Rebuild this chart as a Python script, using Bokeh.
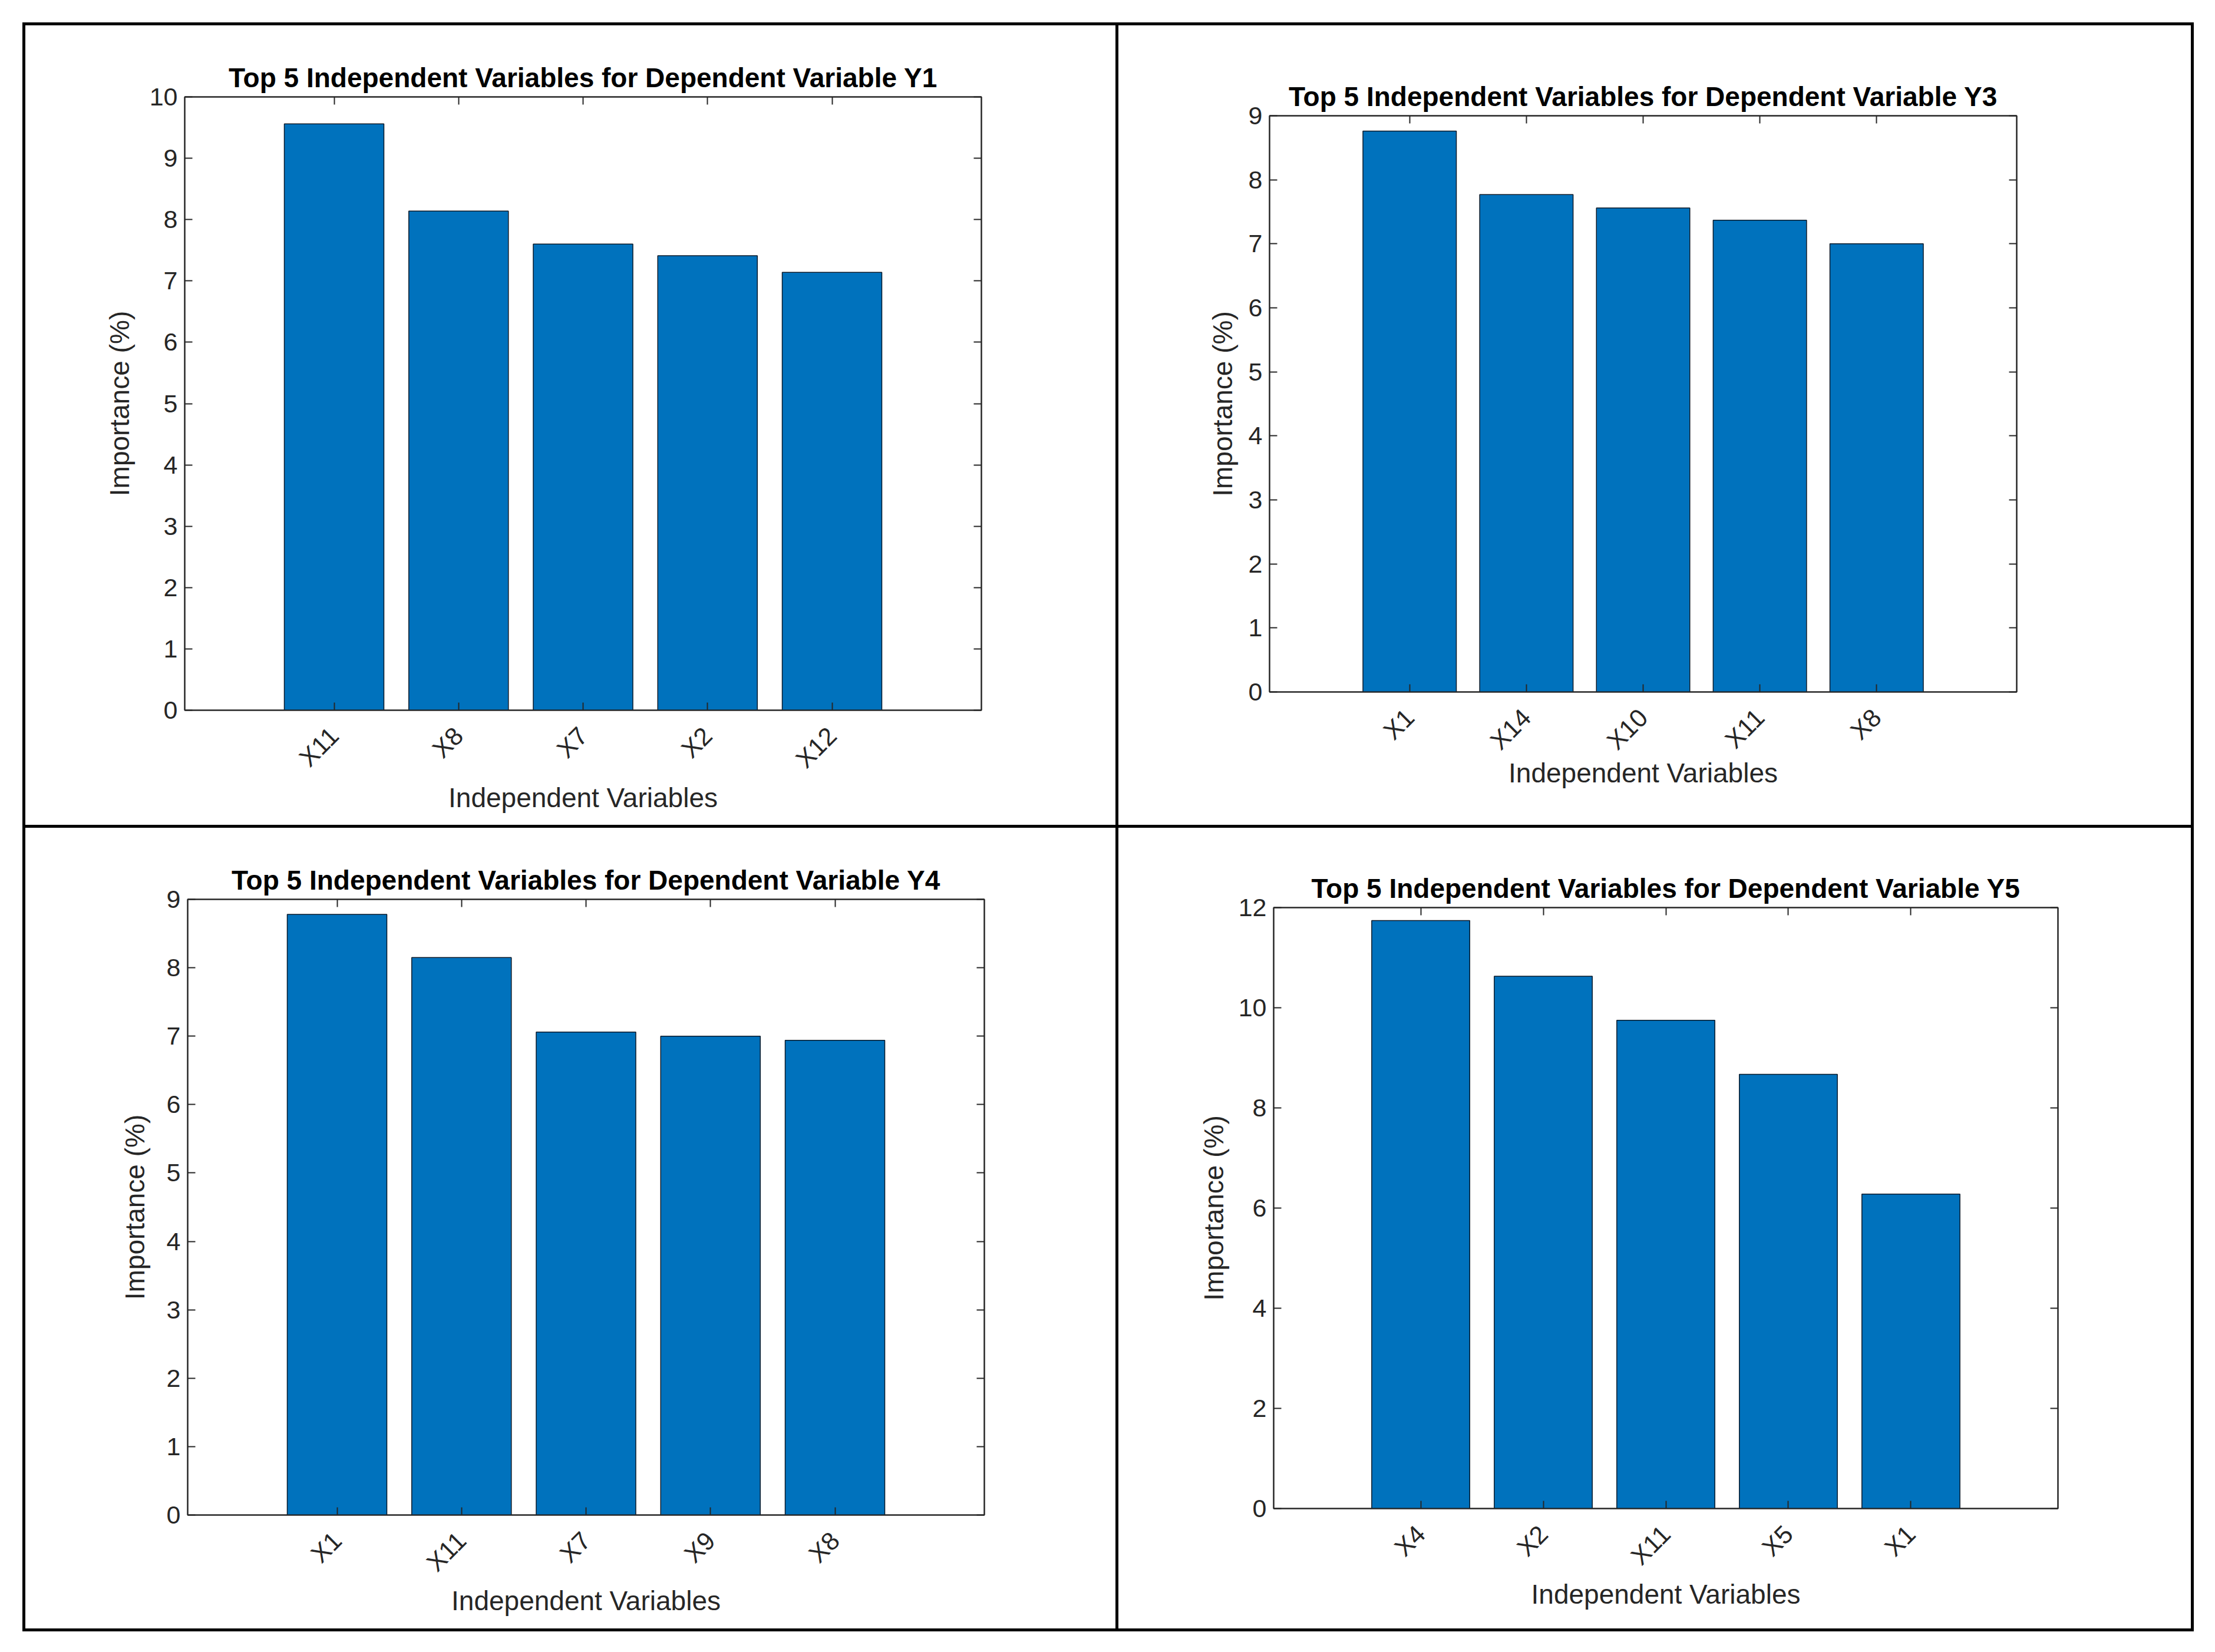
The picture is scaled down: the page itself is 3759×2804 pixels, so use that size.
import math
from bokeh.plotting import figure
from bokeh.models import Range1d, FixedTicker, LinearAxis, Div, CustomLabelingPolicy
from bokeh.layouts import row, column
from bokeh.embed import file_html
from bokeh.resources import INLINE

# ---------------- data ----------------
title_y1 = "Top 5 Independent Variables for Dependent Variable Y1"
cats_y1 = ["X11", "X8", "X7", "X2", "X12"]
vals_y1 = [9.56, 8.14, 7.60, 7.41, 7.14]

title_y3 = "Top 5 Independent Variables for Dependent Variable Y3"
cats_y3 = ["X1", "X14", "X10", "X11", "X8"]
vals_y3 = [8.76, 7.77, 7.56, 7.37, 7.00]

title_y4 = "Top 5 Independent Variables for Dependent Variable Y4"
cats_y4 = ["X1", "X11", "X7", "X9", "X8"]
vals_y4 = [8.78, 8.15, 7.06, 7.00, 6.94]

title_y5 = "Top 5 Independent Variables for Dependent Variable Y5"
cats_y5 = ["X4", "X2", "X11", "X5", "X1"]
vals_y5 = [11.74, 10.63, 9.75, 8.67, 6.28]

yticks_y1 = [0, 1, 2, 3, 4, 5, 6, 7, 8, 9, 10]
yticks_y3 = [0, 1, 2, 3, 4, 5, 6, 7, 8, 9]
yticks_y4 = [0, 1, 2, 3, 4, 5, 6, 7, 8, 9]
yticks_y5 = [0, 2, 4, 6, 8, 10, 12]

x_label = "Independent Variables"
y_label = "Importance (%)"

# ---------------- style ----------------
FONT = "Liberation Sans"
AX = "#262626"
BAR = "#0072BD"
TICK_FS = "43px"
LAB_FS = "46px"
TITLE_FS = "46px"


def style_axis(ax, show_labels):
    ax.axis_line_color = AX
    ax.axis_line_width = 2
    ax.major_tick_in = 13
    ax.major_tick_out = 0
    ax.major_tick_line_color = AX
    ax.major_tick_line_width = 2
    ax.minor_tick_line_color = None
    ax.major_label_text_font = FONT
    ax.major_label_text_color = AX
    if show_labels:
        ax.major_label_text_font_size = TICK_FS
    else:
        ax.major_label_text_font_size = "0px"
        ax.major_label_standoff = 0
        ax.major_label_policy = CustomLabelingPolicy(code="return []")


def make_panel(title, cats, vals, yticks, w, h, bl, br, bt, bb,
               ylab_standoff, xlab_standoff):
    xs = list(range(1, len(cats) + 1))
    p = figure(width=w, height=h, output_backend="svg", toolbar_location=None,
               x_range=Range1d(-0.2, len(cats) + 1.2),
               y_range=Range1d(yticks[0], yticks[-1]),
               x_axis_location=None, y_axis_location=None,
               min_border_left=bl, min_border_right=br,
               min_border_top=bt, min_border_bottom=bb,
               title=title)
    p.frame_align = False
    p.grid.visible = False
    p.background_fill_color = "white"
    p.border_fill_color = "white"
    p.outline_line_color = AX
    p.outline_line_width = 2

    p.vbar(x=xs, top=vals, width=0.8, bottom=0,
           fill_color=BAR, line_color="#0a1a2a", line_width=1.5)

    xt = FixedTicker(ticks=xs)
    yt = FixedTicker(ticks=yticks)

    bottom = LinearAxis(ticker=xt, major_label_overrides={x: c for x, c in zip(xs, cats)})
    style_axis(bottom, True)
    bottom.major_label_orientation = math.pi / 4
    bottom.major_label_standoff = 36
    bottom.axis_label = x_label
    bottom.axis_label_text_font = FONT
    bottom.axis_label_text_font_size = LAB_FS
    bottom.axis_label_text_font_style = "normal"
    bottom.axis_label_text_color = AX
    bottom.axis_label_standoff = xlab_standoff
    p.add_layout(bottom, "below")

    left = LinearAxis(ticker=yt)
    style_axis(left, True)
    left.major_label_standoff = 12
    left.axis_label = y_label
    left.axis_label_text_font = FONT
    left.axis_label_text_font_size = LAB_FS
    left.axis_label_text_font_style = "normal"
    left.axis_label_text_color = AX
    left.axis_label_standoff = ylab_standoff
    p.add_layout(left, "left")

    top = LinearAxis(ticker=xt)
    style_axis(top, False)
    p.add_layout(top, "above")

    right = LinearAxis(ticker=yt)
    style_axis(right, False)
    p.add_layout(right, "right")

    p.title.text_font = FONT
    p.title.text_font_size = TITLE_FS
    p.title.text_font_style = "bold"
    p.title.text_color = "black"
    p.title.align = "center"
    p.title.standoff = 13
    return p


p1 = make_panel(title_y1, cats_y1, vals_y1, yticks_y1, 1850, 1357, 270, 228, 121, 195, 22, -5)
p2 = make_panel(title_y3, cats_y3, vals_y3, yticks_y3, 1820, 1357, 256, 296, 153, 226, 15, -16)
p3 = make_panel(title_y4, cats_y4, vals_y4, yticks_y4, 1850, 1359, 275, 223, 121, 193, 25, -5)
p4 = make_panel(title_y5, cats_y5, vals_y5, yticks_y5, 1820, 1359, 263, 226, 135, 204, 13, -5)

BW = 5
TOTAL_W = BW + 1850 + BW + 1820 + BW


def rule(w, h):
    return Div(text="", width=w, height=h, margin=0,
               styles={"background-color": "black"})


layout = column(
    rule(TOTAL_W, BW),
    row(rule(BW, 1357), p1, rule(BW, 1357), p2, rule(BW, 1357), spacing=0),
    rule(TOTAL_W, BW),
    row(rule(BW, 1359), p3, rule(BW, 1359), p4, rule(BW, 1359), spacing=0),
    rule(TOTAL_W, BW),
    spacing=0,
    margin=(38, 0, 0, 38),
)

open("out.html", "w").write(file_html(layout, INLINE))
